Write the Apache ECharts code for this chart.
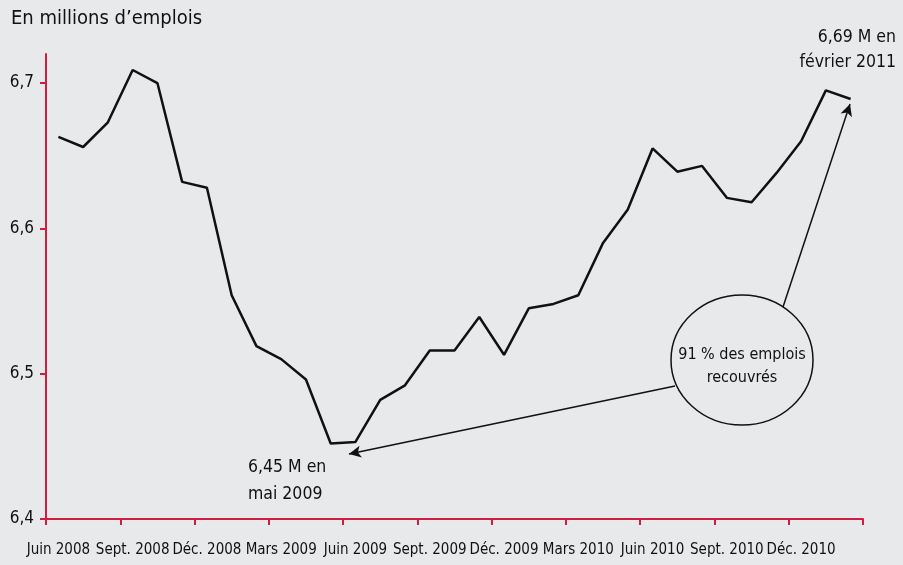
<!DOCTYPE html>
<html>
<head>
<meta charset="utf-8">
<script src="https://cdn.jsdelivr.net/npm/echarts@6/dist/echarts.min.js"></script>
<style>
  html, body { margin: 0; padding: 0; background: #e8e9eb; }
  #chart { width: 903px; height: 565px; }
</style>
</head>
<body>
<div id="chart"></div>
<script>
// mois de juin 2008 à février 2011
var months = [
    'Juin 2008', 'Juil. 2008', 'Août 2008', 'Sept. 2008', 'Oct. 2008', 'Nov. 2008',
    'Déc. 2008', 'Janv. 2009', 'Févr. 2009', 'Mars 2009', 'Avr. 2009', 'Mai 2009',
    'Juin 2009', 'Juil. 2009', 'Août 2009', 'Sept. 2009', 'Oct. 2009', 'Nov. 2009',
    'Déc. 2009', 'Janv. 2010', 'Févr. 2010', 'Mars 2010', 'Avr. 2010', 'Mai 2010',
    'Juin 2010', 'Juil. 2010', 'Août 2010', 'Sept. 2010', 'Oct. 2010', 'Nov. 2010',
    'Déc. 2010', 'Janv. 2011', 'Févr. 2011'
]
// emplois, en millions
var emplois = [
    6.663, 6.656, 6.673, 6.709, 6.700, 6.632,
    6.628, 6.554, 6.519, 6.510, 6.496, 6.452,
    6.453, 6.482, 6.492, 6.516, 6.516, 6.539,
    6.513, 6.545, 6.548, 6.554, 6.590, 6.613,
    6.655, 6.639, 6.643, 6.621, 6.618, 6.638,
    6.660, 6.695, 6.689
]
var yTicks = [6.4, 6.5, 6.6, 6.7]

var FONT = '"DejaVu Sans Condensed", "DejaVu Sans", sans-serif'
var RED = '#cf1d3f'
var INK = '#111111'

// un repère tous les trois mois
function everyThird(index) {
    return index % 3 === 0
}

var myChart = echarts.init(document.getElementById('chart'))

var option = {
    backgroundColor: '#e8e9eb',
    animation: false,
    grid: {
        left: 46,
        right: 40,
        top: 54,
        bottom: 46
    },
    xAxis: {
        type: 'category',
        data: months,
        boundaryGap: true,
        axisLine: { lineStyle: { color: RED, width: 2 } },
        axisTick: { show: true, interval: everyThird, length: 6, lineStyle: { color: RED, width: 2 } },
        axisLabel: {
            interval: everyThird,
            margin: 24,
            showMinLabel: true,
            color: INK,
            fontFamily: FONT,
            fontSize: 15
        },
        splitLine: { show: false }
    },
    yAxis: {
        type: 'value',
        min: yTicks[0],
        max: 6.72,
        interval: 0.1,
        axisLine: { show: true, lineStyle: { color: RED, width: 2 } },
        axisTick: { show: true, length: 6, lineStyle: { color: RED, width: 2 } },
        axisLabel: {
            margin: 12,
            color: INK,
            fontFamily: FONT,
            fontSize: 17,
            showMaxLabel: false,
            formatter: function (v) {
                if (yTicks.indexOf(Math.round(v * 10) / 10) < 0) return ''
                return v.toFixed(1).replace('.', ',')
            }
        },
        splitLine: { show: false }
    },
    series: [{
        type: 'line',
        data: emplois,
        symbol: 'none',
        lineStyle: { color: INK, width: 2.5 },
        markLine: {
            silent: true,
            symbol: ['none', 'arrow'],
            symbolSize: [9, 12],
            label: { show: false },
            lineStyle: { color: INK, width: 1.5, type: 'solid' },
            data: [
                [{ x: 675, y: 386 }, { x: 349, y: 454 }],
                [{ x: 783, y: 307 }, { x: 850, y: 104 }]
            ]
        }
    }],
    graphic: [
        {
            type: 'text',
            x: 11,
            y: 19,
            style: {
                text: 'En millions d’emplois',
                font: '20px ' + FONT,
                fill: INK,
                verticalAlign: 'middle'
            }
        },
        {
            type: 'ellipse',
            shape: { cx: 742, cy: 360, rx: 71, ry: 65 },
            style: { fill: 'none', stroke: INK, lineWidth: 1.5 }
        },
        {
            type: 'text',
            x: 742,
            y: 366,
            style: {
                text: '91 % des emplois\nrecouvrés',
                font: '16px ' + FONT,
                fill: INK,
                align: 'center',
                verticalAlign: 'middle',
                lineHeight: 23
            }
        },
        {
            type: 'text',
            x: 248,
            y: 481,
            style: {
                text: '6,45 M en\nmai 2009',
                font: '17.5px ' + FONT,
                fill: INK,
                verticalAlign: 'middle',
                lineHeight: 27
            }
        },
        {
            type: 'text',
            x: 896,
            y: 50,
            style: {
                text: '6,69 M en\nfévrier 2011',
                font: '17.5px ' + FONT,
                fill: INK,
                align: 'right',
                verticalAlign: 'middle',
                lineHeight: 25
            }
        }
    ]
}

myChart.setOption(option)
</script>
</body>
</html>
